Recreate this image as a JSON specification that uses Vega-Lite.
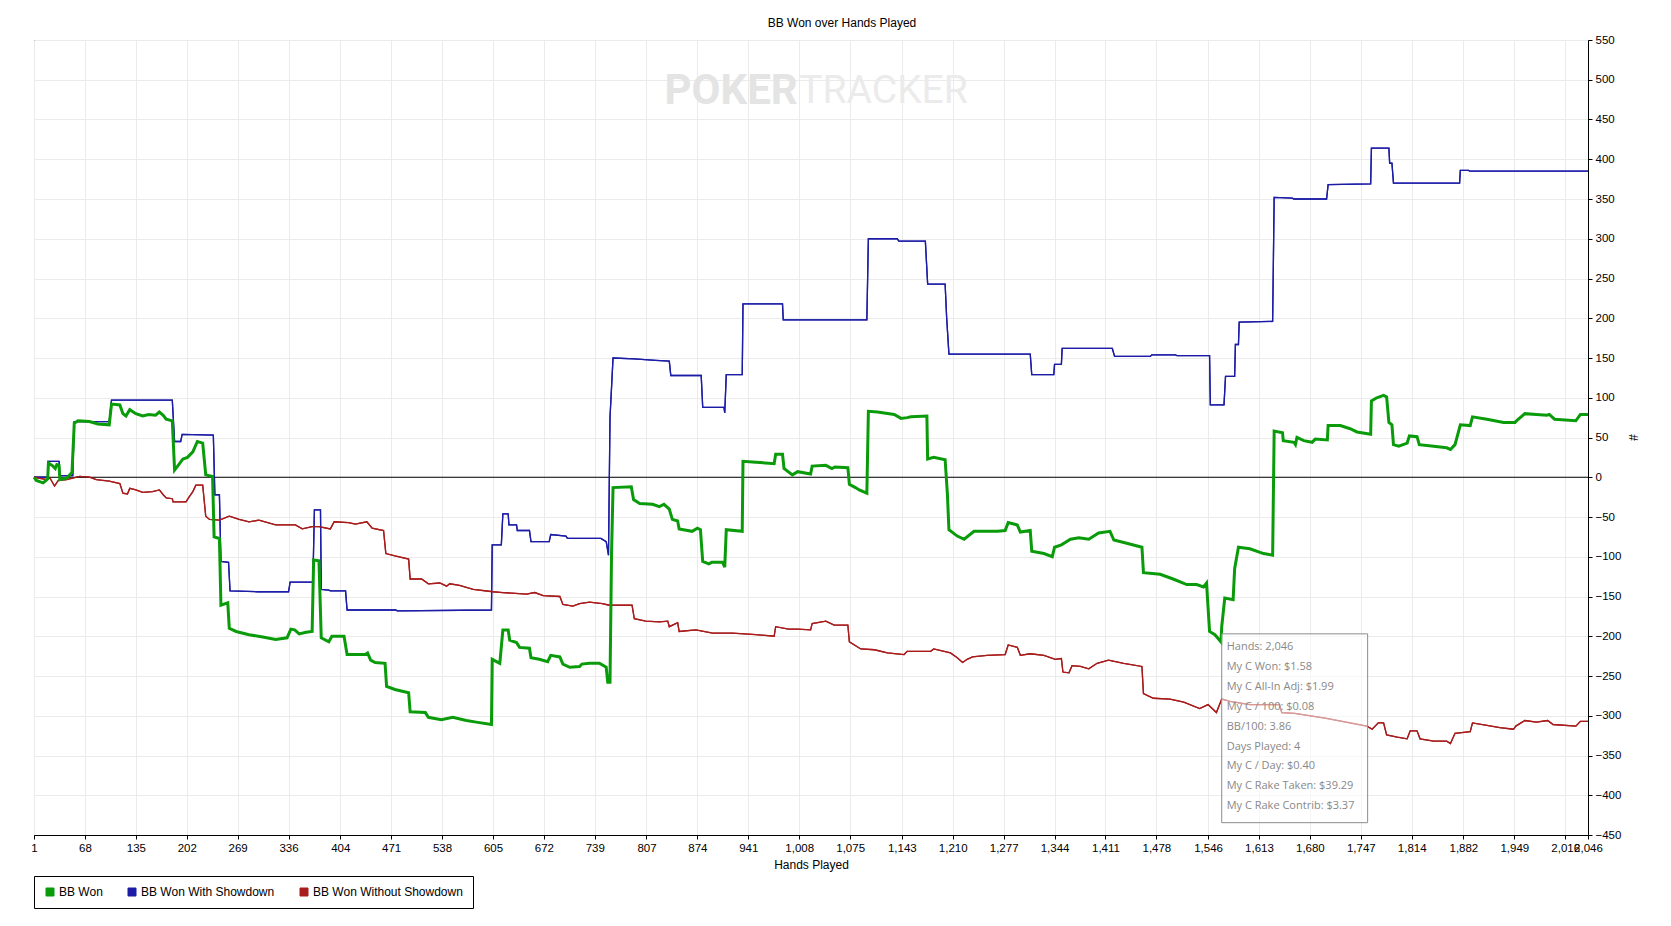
{
  "$schema": "https://vega.github.io/schema/vega-lite/v6.json",
  "width": 1554,
  "height": 795,
  "autosize": {"type": "none"},
  "padding": {"left": 34, "top": 40, "right": 83, "bottom": 91},
  "background": "white",
  "title": {"text": "BB Won over Hands Played", "anchor": "middle", "dx": 31, "offset": 4, "font": "Liberation Sans", "fontSize": 12, "fontWeight": "normal", "color": "black"},
  "config": {
    "view": {"stroke": "black", "strokeWidth": 1},
    "axis": {"labelFont": "Liberation Sans", "labelFontSize": 11.5, "labelColor": "black", "titleFont": "Liberation Sans", "titleFontSize": 12, "titleFontWeight": "normal", "titleColor": "black", "domainColor": "black", "tickColor": "black", "tickSize": 4, "labelPadding": 3, "gridColor": "#ebebeb", "gridWidth": 1, "labelOverlap": false},
    "legend": {"labelFont": "Liberation Sans", "labelFontSize": 12, "labelColor": "black"}
  },
  "datasets": {
    "bb": [
      {"s":"BB Won","h":1,"v":0},{"s":"BB Won","h":4,"v":-4},{"s":"BB Won","h":13,"v":-7},{"s":"BB Won","h":18,"v":-3},{"s":"BB Won","h":19,"v":-2},{"s":"BB Won","h":20,"v":18},{"s":"BB Won","h":26,"v":14},{"s":"BB Won","h":29,"v":11},{"s":"BB Won","h":31,"v":16},{"s":"BB Won","h":34,"v":15},{"s":"BB Won","h":35,"v":-3},{"s":"BB Won","h":44,"v":-1},{"s":"BB Won","h":51,"v":6},{"s":"BB Won","h":54,"v":68},{"s":"BB Won","h":59,"v":71},{"s":"BB Won","h":74,"v":70},{"s":"BB Won","h":85,"v":67},{"s":"BB Won","h":100,"v":66},{"s":"BB Won","h":103,"v":92},{"s":"BB Won","h":114,"v":91},{"s":"BB Won","h":118,"v":80},{"s":"BB Won","h":122,"v":77},{"s":"BB Won","h":127,"v":85},{"s":"BB Won","h":135,"v":80},{"s":"BB Won","h":144,"v":77},{"s":"BB Won","h":152,"v":79},{"s":"BB Won","h":161,"v":78},{"s":"BB Won","h":166,"v":82},{"s":"BB Won","h":171,"v":78},{"s":"BB Won","h":175,"v":73},{"s":"BB Won","h":183,"v":71},{"s":"BB Won","h":186,"v":9},{"s":"BB Won","h":190,"v":14},{"s":"BB Won","h":197,"v":23},{"s":"BB Won","h":203,"v":25},{"s":"BB Won","h":210,"v":32},{"s":"BB Won","h":216,"v":45},{"s":"BB Won","h":223,"v":43},{"s":"BB Won","h":227,"v":3},{"s":"BB Won","h":236,"v":1},{"s":"BB Won","h":238,"v":-75},{"s":"BB Won","h":245,"v":-77},{"s":"BB Won","h":247,"v":-161},{"s":"BB Won","h":256,"v":-158},{"s":"BB Won","h":258,"v":-190},{"s":"BB Won","h":267,"v":-194},{"s":"BB Won","h":284,"v":-198},{"s":"BB Won","h":302,"v":-201},{"s":"BB Won","h":319,"v":-204},{"s":"BB Won","h":334,"v":-202},{"s":"BB Won","h":339,"v":-191},{"s":"BB Won","h":344,"v":-192},{"s":"BB Won","h":350,"v":-197},{"s":"BB Won","h":359,"v":-195},{"s":"BB Won","h":367,"v":-194},{"s":"BB Won","h":369,"v":-104},{"s":"BB Won","h":376,"v":-105},{"s":"BB Won","h":379,"v":-202},{"s":"BB Won","h":389,"v":-207},{"s":"BB Won","h":393,"v":-200},{"s":"BB Won","h":409,"v":-200},{"s":"BB Won","h":413,"v":-223},{"s":"BB Won","h":437,"v":-223},{"s":"BB Won","h":440,"v":-221},{"s":"BB Won","h":444,"v":-230},{"s":"BB Won","h":450,"v":-233},{"s":"BB Won","h":463,"v":-234},{"s":"BB Won","h":465,"v":-263},{"s":"BB Won","h":476,"v":-267},{"s":"BB Won","h":494,"v":-271},{"s":"BB Won","h":496,"v":-295},{"s":"BB Won","h":516,"v":-296},{"s":"BB Won","h":520,"v":-302},{"s":"BB Won","h":537,"v":-305},{"s":"BB Won","h":552,"v":-302},{"s":"BB Won","h":570,"v":-306},{"s":"BB Won","h":583,"v":-308},{"s":"BB Won","h":603,"v":-311},{"s":"BB Won","h":604,"v":-229},{"s":"BB Won","h":614,"v":-234},{"s":"BB Won","h":618,"v":-192},{"s":"BB Won","h":625,"v":-192},{"s":"BB Won","h":627,"v":-205},{"s":"BB Won","h":636,"v":-208},{"s":"BB Won","h":640,"v":-214},{"s":"BB Won","h":653,"v":-215},{"s":"BB Won","h":655,"v":-227},{"s":"BB Won","h":666,"v":-229},{"s":"BB Won","h":677,"v":-232},{"s":"BB Won","h":681,"v":-224},{"s":"BB Won","h":693,"v":-226},{"s":"BB Won","h":697,"v":-235},{"s":"BB Won","h":706,"v":-239},{"s":"BB Won","h":719,"v":-238},{"s":"BB Won","h":722,"v":-235},{"s":"BB Won","h":732,"v":-234},{"s":"BB Won","h":745,"v":-234},{"s":"BB Won","h":754,"v":-239},{"s":"BB Won","h":756,"v":-258},{"s":"BB Won","h":759,"v":-258},{"s":"BB Won","h":761,"v":-97},{"s":"BB Won","h":763,"v":-13},{"s":"BB Won","h":787,"v":-12},{"s":"BB Won","h":790,"v":-28},{"s":"BB Won","h":798,"v":-33},{"s":"BB Won","h":815,"v":-34},{"s":"BB Won","h":824,"v":-37},{"s":"BB Won","h":830,"v":-34},{"s":"BB Won","h":837,"v":-40},{"s":"BB Won","h":841,"v":-53},{"s":"BB Won","h":848,"v":-55},{"s":"BB Won","h":850,"v":-65},{"s":"BB Won","h":867,"v":-68},{"s":"BB Won","h":874,"v":-64},{"s":"BB Won","h":878,"v":-66},{"s":"BB Won","h":881,"v":-106},{"s":"BB Won","h":889,"v":-109},{"s":"BB Won","h":893,"v":-107},{"s":"BB Won","h":907,"v":-107},{"s":"BB Won","h":910,"v":-113},{"s":"BB Won","h":912,"v":-66},{"s":"BB Won","h":933,"v":-68},{"s":"BB Won","h":934,"v":20},{"s":"BB Won","h":951,"v":19},{"s":"BB Won","h":975,"v":17},{"s":"BB Won","h":977,"v":29},{"s":"BB Won","h":986,"v":29},{"s":"BB Won","h":988,"v":11},{"s":"BB Won","h":999,"v":3},{"s":"BB Won","h":1006,"v":7},{"s":"BB Won","h":1023,"v":4},{"s":"BB Won","h":1025,"v":14},{"s":"BB Won","h":1043,"v":15},{"s":"BB Won","h":1051,"v":11},{"s":"BB Won","h":1055,"v":13},{"s":"BB Won","h":1072,"v":12},{"s":"BB Won","h":1074,"v":-9},{"s":"BB Won","h":1082,"v":-13},{"s":"BB Won","h":1087,"v":-16},{"s":"BB Won","h":1097,"v":-20},{"s":"BB Won","h":1099,"v":83},{"s":"BB Won","h":1111,"v":82},{"s":"BB Won","h":1133,"v":79},{"s":"BB Won","h":1142,"v":74},{"s":"BB Won","h":1150,"v":75},{"s":"BB Won","h":1155,"v":76},{"s":"BB Won","h":1176,"v":77},{"s":"BB Won","h":1177,"v":23},{"s":"BB Won","h":1185,"v":25},{"s":"BB Won","h":1200,"v":22},{"s":"BB Won","h":1203,"v":-21},{"s":"BB Won","h":1205,"v":-66},{"s":"BB Won","h":1216,"v":-74},{"s":"BB Won","h":1225,"v":-78},{"s":"BB Won","h":1238,"v":-68},{"s":"BB Won","h":1269,"v":-68},{"s":"BB Won","h":1279,"v":-67},{"s":"BB Won","h":1283,"v":-57},{"s":"BB Won","h":1295,"v":-60},{"s":"BB Won","h":1299,"v":-69},{"s":"BB Won","h":1312,"v":-67},{"s":"BB Won","h":1314,"v":-93},{"s":"BB Won","h":1330,"v":-96},{"s":"BB Won","h":1341,"v":-100},{"s":"BB Won","h":1344,"v":-88},{"s":"BB Won","h":1353,"v":-85},{"s":"BB Won","h":1365,"v":-78},{"s":"BB Won","h":1376,"v":-76},{"s":"BB Won","h":1389,"v":-78},{"s":"BB Won","h":1402,"v":-70},{"s":"BB Won","h":1417,"v":-68},{"s":"BB Won","h":1422,"v":-79},{"s":"BB Won","h":1439,"v":-83},{"s":"BB Won","h":1459,"v":-88},{"s":"BB Won","h":1461,"v":-120},{"s":"BB Won","h":1483,"v":-122},{"s":"BB Won","h":1500,"v":-128},{"s":"BB Won","h":1518,"v":-135},{"s":"BB Won","h":1531,"v":-135},{"s":"BB Won","h":1540,"v":-138},{"s":"BB Won","h":1544,"v":-133},{"s":"BB Won","h":1548,"v":-194},{"s":"BB Won","h":1555,"v":-198},{"s":"BB Won","h":1563,"v":-207},{"s":"BB Won","h":1564,"v":-188},{"s":"BB Won","h":1568,"v":-152},{"s":"BB Won","h":1579,"v":-154},{"s":"BB Won","h":1581,"v":-115},{"s":"BB Won","h":1586,"v":-88},{"s":"BB Won","h":1601,"v":-90},{"s":"BB Won","h":1619,"v":-96},{"s":"BB Won","h":1631,"v":-98},{"s":"BB Won","h":1633,"v":58},{"s":"BB Won","h":1644,"v":56},{"s":"BB Won","h":1645,"v":46},{"s":"BB Won","h":1659,"v":44},{"s":"BB Won","h":1661,"v":41},{"s":"BB Won","h":1663,"v":50},{"s":"BB Won","h":1672,"v":46},{"s":"BB Won","h":1683,"v":44},{"s":"BB Won","h":1687,"v":48},{"s":"BB Won","h":1703,"v":47},{"s":"BB Won","h":1704,"v":65},{"s":"BB Won","h":1720,"v":65},{"s":"BB Won","h":1733,"v":61},{"s":"BB Won","h":1742,"v":57},{"s":"BB Won","h":1760,"v":54},{"s":"BB Won","h":1761,"v":96},{"s":"BB Won","h":1768,"v":100},{"s":"BB Won","h":1777,"v":103},{"s":"BB Won","h":1781,"v":101},{"s":"BB Won","h":1784,"v":69},{"s":"BB Won","h":1788,"v":66},{"s":"BB Won","h":1790,"v":41},{"s":"BB Won","h":1797,"v":39},{"s":"BB Won","h":1808,"v":43},{"s":"BB Won","h":1811,"v":52},{"s":"BB Won","h":1821,"v":51},{"s":"BB Won","h":1824,"v":41},{"s":"BB Won","h":1843,"v":39},{"s":"BB Won","h":1860,"v":37},{"s":"BB Won","h":1865,"v":35},{"s":"BB Won","h":1871,"v":41},{"s":"BB Won","h":1878,"v":66},{"s":"BB Won","h":1891,"v":65},{"s":"BB Won","h":1894,"v":76},{"s":"BB Won","h":1913,"v":73},{"s":"BB Won","h":1935,"v":69},{"s":"BB Won","h":1950,"v":69},{"s":"BB Won","h":1953,"v":72},{"s":"BB Won","h":1963,"v":80},{"s":"BB Won","h":1978,"v":79},{"s":"BB Won","h":1992,"v":78},{"s":"BB Won","h":1995,"v":79},{"s":"BB Won","h":2002,"v":73},{"s":"BB Won","h":2030,"v":71},{"s":"BB Won","h":2036,"v":79},{"s":"BB Won","h":2046,"v":79},

      {"s":"BB Won With Showdown","h":1,"v":0},{"s":"BB Won With Showdown","h":19,"v":0},{"s":"BB Won With Showdown","h":20,"v":20},{"s":"BB Won With Showdown","h":34,"v":20},{"s":"BB Won With Showdown","h":35,"v":2},{"s":"BB Won With Showdown","h":52,"v":2},{"s":"BB Won With Showdown","h":54,"v":70},{"s":"BB Won With Showdown","h":100,"v":70},{"s":"BB Won With Showdown","h":103,"v":97},{"s":"BB Won With Showdown","h":183,"v":97},{"s":"BB Won With Showdown","h":186,"v":45},{"s":"BB Won With Showdown","h":194,"v":45},{"s":"BB Won With Showdown","h":196,"v":54},{"s":"BB Won With Showdown","h":237,"v":53},{"s":"BB Won With Showdown","h":239,"v":-22},{"s":"BB Won With Showdown","h":245,"v":-22},{"s":"BB Won With Showdown","h":247,"v":-106},{"s":"BB Won With Showdown","h":257,"v":-107},{"s":"BB Won With Showdown","h":259,"v":-143},{"s":"BB Won With Showdown","h":295,"v":-144},{"s":"BB Won With Showdown","h":336,"v":-144},{"s":"BB Won With Showdown","h":338,"v":-132},{"s":"BB Won With Showdown","h":368,"v":-132},{"s":"BB Won With Showdown","h":370,"v":-41},{"s":"BB Won With Showdown","h":378,"v":-41},{"s":"BB Won With Showdown","h":379,"v":-141},{"s":"BB Won With Showdown","h":389,"v":-142},{"s":"BB Won With Showdown","h":391,"v":-143},{"s":"BB Won With Showdown","h":411,"v":-143},{"s":"BB Won With Showdown","h":413,"v":-167},{"s":"BB Won With Showdown","h":477,"v":-167},{"s":"BB Won With Showdown","h":479,"v":-168},{"s":"BB Won With Showdown","h":603,"v":-167},{"s":"BB Won With Showdown","h":604,"v":-85},{"s":"BB Won With Showdown","h":616,"v":-85},{"s":"BB Won With Showdown","h":618,"v":-46},{"s":"BB Won With Showdown","h":625,"v":-46},{"s":"BB Won With Showdown","h":626,"v":-60},{"s":"BB Won With Showdown","h":636,"v":-60},{"s":"BB Won With Showdown","h":637,"v":-67},{"s":"BB Won With Showdown","h":653,"v":-67},{"s":"BB Won With Showdown","h":655,"v":-81},{"s":"BB Won With Showdown","h":679,"v":-81},{"s":"BB Won With Showdown","h":681,"v":-72},{"s":"BB Won With Showdown","h":701,"v":-74},{"s":"BB Won With Showdown","h":703,"v":-77},{"s":"BB Won With Showdown","h":747,"v":-77},{"s":"BB Won With Showdown","h":754,"v":-81},{"s":"BB Won With Showdown","h":757,"v":-98},{"s":"BB Won With Showdown","h":759,"v":75},{"s":"BB Won With Showdown","h":763,"v":150},{"s":"BB Won With Showdown","h":791,"v":149},{"s":"BB Won With Showdown","h":819,"v":147},{"s":"BB Won With Showdown","h":837,"v":146},{"s":"BB Won With Showdown","h":839,"v":128},{"s":"BB Won With Showdown","h":879,"v":128},{"s":"BB Won With Showdown","h":881,"v":88},{"s":"BB Won With Showdown","h":909,"v":88},{"s":"BB Won With Showdown","h":910,"v":81},{"s":"BB Won With Showdown","h":912,"v":129},{"s":"BB Won With Showdown","h":933,"v":129},{"s":"BB Won With Showdown","h":934,"v":218},{"s":"BB Won With Showdown","h":986,"v":218},{"s":"BB Won With Showdown","h":987,"v":198},{"s":"BB Won With Showdown","h":1097,"v":198},{"s":"BB Won With Showdown","h":1099,"v":300},{"s":"BB Won With Showdown","h":1137,"v":300},{"s":"BB Won With Showdown","h":1139,"v":297},{"s":"BB Won With Showdown","h":1174,"v":297},{"s":"BB Won With Showdown","h":1177,"v":243},{"s":"BB Won With Showdown","h":1200,"v":243},{"s":"BB Won With Showdown","h":1202,"v":201},{"s":"BB Won With Showdown","h":1205,"v":155},{"s":"BB Won With Showdown","h":1312,"v":155},{"s":"BB Won With Showdown","h":1314,"v":129},{"s":"BB Won With Showdown","h":1343,"v":129},{"s":"BB Won With Showdown","h":1344,"v":142},{"s":"BB Won With Showdown","h":1353,"v":142},{"s":"BB Won With Showdown","h":1354,"v":162},{"s":"BB Won With Showdown","h":1420,"v":162},{"s":"BB Won With Showdown","h":1423,"v":152},{"s":"BB Won With Showdown","h":1470,"v":152},{"s":"BB Won With Showdown","h":1472,"v":154},{"s":"BB Won With Showdown","h":1503,"v":154},{"s":"BB Won With Showdown","h":1505,"v":153},{"s":"BB Won With Showdown","h":1548,"v":153},{"s":"BB Won With Showdown","h":1549,"v":91},{"s":"BB Won With Showdown","h":1567,"v":91},{"s":"BB Won With Showdown","h":1569,"v":127},{"s":"BB Won With Showdown","h":1581,"v":127},{"s":"BB Won With Showdown","h":1582,"v":167},{"s":"BB Won With Showdown","h":1586,"v":167},{"s":"BB Won With Showdown","h":1587,"v":195},{"s":"BB Won With Showdown","h":1631,"v":196},{"s":"BB Won With Showdown","h":1633,"v":352},{"s":"BB Won With Showdown","h":1657,"v":351},{"s":"BB Won With Showdown","h":1659,"v":350},{"s":"BB Won With Showdown","h":1702,"v":350},{"s":"BB Won With Showdown","h":1704,"v":368},{"s":"BB Won With Showdown","h":1760,"v":369},{"s":"BB Won With Showdown","h":1761,"v":414},{"s":"BB Won With Showdown","h":1784,"v":414},{"s":"BB Won With Showdown","h":1785,"v":395},{"s":"BB Won With Showdown","h":1788,"v":395},{"s":"BB Won With Showdown","h":1790,"v":370},{"s":"BB Won With Showdown","h":1877,"v":370},{"s":"BB Won With Showdown","h":1878,"v":386},{"s":"BB Won With Showdown","h":1889,"v":386},{"s":"BB Won With Showdown","h":1890,"v":385},{"s":"BB Won With Showdown","h":2046,"v":385},

      {"s":"BB Won Without Showdown","h":1,"v":0},{"s":"BB Won Without Showdown","h":18,"v":-3},{"s":"BB Won Without Showdown","h":22,"v":-1},{"s":"BB Won Without Showdown","h":28,"v":-11},{"s":"BB Won Without Showdown","h":33,"v":-4},{"s":"BB Won Without Showdown","h":44,"v":-3},{"s":"BB Won Without Showdown","h":61,"v":1},{"s":"BB Won Without Showdown","h":74,"v":0},{"s":"BB Won Without Showdown","h":83,"v":-3},{"s":"BB Won Without Showdown","h":100,"v":-5},{"s":"BB Won Without Showdown","h":114,"v":-8},{"s":"BB Won Without Showdown","h":118,"v":-20},{"s":"BB Won Without Showdown","h":124,"v":-21},{"s":"BB Won Without Showdown","h":127,"v":-14},{"s":"BB Won Without Showdown","h":135,"v":-16},{"s":"BB Won Without Showdown","h":144,"v":-19},{"s":"BB Won Without Showdown","h":157,"v":-18},{"s":"BB Won Without Showdown","h":166,"v":-16},{"s":"BB Won Without Showdown","h":171,"v":-22},{"s":"BB Won Without Showdown","h":175,"v":-26},{"s":"BB Won Without Showdown","h":183,"v":-27},{"s":"BB Won Without Showdown","h":184,"v":-31},{"s":"BB Won Without Showdown","h":201,"v":-31},{"s":"BB Won Without Showdown","h":205,"v":-25},{"s":"BB Won Without Showdown","h":210,"v":-18},{"s":"BB Won Without Showdown","h":214,"v":-10},{"s":"BB Won Without Showdown","h":223,"v":-10},{"s":"BB Won Without Showdown","h":227,"v":-49},{"s":"BB Won Without Showdown","h":232,"v":-53},{"s":"BB Won Without Showdown","h":245,"v":-54},{"s":"BB Won Without Showdown","h":258,"v":-49},{"s":"BB Won Without Showdown","h":271,"v":-53},{"s":"BB Won Without Showdown","h":284,"v":-56},{"s":"BB Won Without Showdown","h":297,"v":-54},{"s":"BB Won Without Showdown","h":319,"v":-60},{"s":"BB Won Without Showdown","h":345,"v":-60},{"s":"BB Won Without Showdown","h":354,"v":-65},{"s":"BB Won Without Showdown","h":367,"v":-62},{"s":"BB Won Without Showdown","h":376,"v":-62},{"s":"BB Won Without Showdown","h":391,"v":-65},{"s":"BB Won Without Showdown","h":396,"v":-56},{"s":"BB Won Without Showdown","h":415,"v":-57},{"s":"BB Won Without Showdown","h":424,"v":-59},{"s":"BB Won Without Showdown","h":439,"v":-56},{"s":"BB Won Without Showdown","h":446,"v":-64},{"s":"BB Won Without Showdown","h":461,"v":-67},{"s":"BB Won Without Showdown","h":464,"v":-96},{"s":"BB Won Without Showdown","h":476,"v":-99},{"s":"BB Won Without Showdown","h":494,"v":-103},{"s":"BB Won Without Showdown","h":496,"v":-128},{"s":"BB Won Without Showdown","h":511,"v":-128},{"s":"BB Won Without Showdown","h":520,"v":-134},{"s":"BB Won Without Showdown","h":535,"v":-133},{"s":"BB Won Without Showdown","h":544,"v":-137},{"s":"BB Won Without Showdown","h":548,"v":-134},{"s":"BB Won Without Showdown","h":561,"v":-136},{"s":"BB Won Without Showdown","h":579,"v":-141},{"s":"BB Won Without Showdown","h":605,"v":-144},{"s":"BB Won Without Showdown","h":618,"v":-145},{"s":"BB Won Without Showdown","h":649,"v":-147},{"s":"BB Won Without Showdown","h":660,"v":-145},{"s":"BB Won Without Showdown","h":671,"v":-149},{"s":"BB Won Without Showdown","h":693,"v":-150},{"s":"BB Won Without Showdown","h":697,"v":-160},{"s":"BB Won Without Showdown","h":710,"v":-162},{"s":"BB Won Without Showdown","h":719,"v":-159},{"s":"BB Won Without Showdown","h":732,"v":-157},{"s":"BB Won Without Showdown","h":749,"v":-159},{"s":"BB Won Without Showdown","h":758,"v":-161},{"s":"BB Won Without Showdown","h":788,"v":-161},{"s":"BB Won Without Showdown","h":791,"v":-178},{"s":"BB Won Without Showdown","h":806,"v":-181},{"s":"BB Won Without Showdown","h":824,"v":-182},{"s":"BB Won Without Showdown","h":835,"v":-181},{"s":"BB Won Without Showdown","h":837,"v":-188},{"s":"BB Won Without Showdown","h":848,"v":-183},{"s":"BB Won Without Showdown","h":850,"v":-194},{"s":"BB Won Without Showdown","h":872,"v":-192},{"s":"BB Won Without Showdown","h":894,"v":-196},{"s":"BB Won Without Showdown","h":920,"v":-196},{"s":"BB Won Without Showdown","h":951,"v":-198},{"s":"BB Won Without Showdown","h":975,"v":-200},{"s":"BB Won Without Showdown","h":977,"v":-188},{"s":"BB Won Without Showdown","h":994,"v":-191},{"s":"BB Won Without Showdown","h":1006,"v":-191},{"s":"BB Won Without Showdown","h":1023,"v":-192},{"s":"BB Won Without Showdown","h":1025,"v":-184},{"s":"BB Won Without Showdown","h":1043,"v":-181},{"s":"BB Won Without Showdown","h":1054,"v":-186},{"s":"BB Won Without Showdown","h":1072,"v":-186},{"s":"BB Won Without Showdown","h":1074,"v":-207},{"s":"BB Won Without Showdown","h":1089,"v":-216},{"s":"BB Won Without Showdown","h":1107,"v":-217},{"s":"BB Won Without Showdown","h":1124,"v":-221},{"s":"BB Won Without Showdown","h":1146,"v":-223},{"s":"BB Won Without Showdown","h":1150,"v":-219},{"s":"BB Won Without Showdown","h":1181,"v":-219},{"s":"BB Won Without Showdown","h":1185,"v":-216},{"s":"BB Won Without Showdown","h":1207,"v":-221},{"s":"BB Won Without Showdown","h":1216,"v":-227},{"s":"BB Won Without Showdown","h":1223,"v":-233},{"s":"BB Won Without Showdown","h":1229,"v":-229},{"s":"BB Won Without Showdown","h":1236,"v":-226},{"s":"BB Won Without Showdown","h":1255,"v":-224},{"s":"BB Won Without Showdown","h":1279,"v":-223},{"s":"BB Won Without Showdown","h":1283,"v":-211},{"s":"BB Won Without Showdown","h":1295,"v":-214},{"s":"BB Won Without Showdown","h":1299,"v":-224},{"s":"BB Won Without Showdown","h":1312,"v":-222},{"s":"BB Won Without Showdown","h":1330,"v":-224},{"s":"BB Won Without Showdown","h":1345,"v":-229},{"s":"BB Won Without Showdown","h":1353,"v":-228},{"s":"BB Won Without Showdown","h":1355,"v":-245},{"s":"BB Won Without Showdown","h":1363,"v":-246},{"s":"BB Won Without Showdown","h":1367,"v":-237},{"s":"BB Won Without Showdown","h":1378,"v":-238},{"s":"BB Won Without Showdown","h":1389,"v":-241},{"s":"BB Won Without Showdown","h":1400,"v":-234},{"s":"BB Won Without Showdown","h":1415,"v":-230},{"s":"BB Won Without Showdown","h":1435,"v":-234},{"s":"BB Won Without Showdown","h":1459,"v":-238},{"s":"BB Won Without Showdown","h":1461,"v":-272},{"s":"BB Won Without Showdown","h":1474,"v":-278},{"s":"BB Won Without Showdown","h":1496,"v":-279},{"s":"BB Won Without Showdown","h":1514,"v":-283},{"s":"BB Won Without Showdown","h":1535,"v":-291},{"s":"BB Won Without Showdown","h":1546,"v":-286},{"s":"BB Won Without Showdown","h":1557,"v":-296},{"s":"BB Won Without Showdown","h":1564,"v":-279},{"s":"BB Won Without Showdown","h":1575,"v":-282},{"s":"BB Won Without Showdown","h":1601,"v":-286},{"s":"BB Won Without Showdown","h":1640,"v":-286},{"s":"BB Won Without Showdown","h":1643,"v":-296},{"s":"BB Won Without Showdown","h":1660,"v":-297},{"s":"BB Won Without Showdown","h":1700,"v":-303},{"s":"BB Won Without Showdown","h":1755,"v":-313},{"s":"BB Won Without Showdown","h":1762,"v":-317},{"s":"BB Won Without Showdown","h":1770,"v":-309},{"s":"BB Won Without Showdown","h":1777,"v":-309},{"s":"BB Won Without Showdown","h":1781,"v":-324},{"s":"BB Won Without Showdown","h":1795,"v":-327},{"s":"BB Won Without Showdown","h":1808,"v":-329},{"s":"BB Won Without Showdown","h":1812,"v":-319},{"s":"BB Won Without Showdown","h":1821,"v":-319},{"s":"BB Won Without Showdown","h":1825,"v":-329},{"s":"BB Won Without Showdown","h":1843,"v":-332},{"s":"BB Won Without Showdown","h":1860,"v":-332},{"s":"BB Won Without Showdown","h":1865,"v":-335},{"s":"BB Won Without Showdown","h":1871,"v":-322},{"s":"BB Won Without Showdown","h":1891,"v":-320},{"s":"BB Won Without Showdown","h":1894,"v":-309},{"s":"BB Won Without Showdown","h":1913,"v":-312},{"s":"BB Won Without Showdown","h":1930,"v":-315},{"s":"BB Won Without Showdown","h":1948,"v":-317},{"s":"BB Won Without Showdown","h":1951,"v":-313},{"s":"BB Won Without Showdown","h":1963,"v":-306},{"s":"BB Won Without Showdown","h":1978,"v":-308},{"s":"BB Won Without Showdown","h":1993,"v":-306},{"s":"BB Won Without Showdown","h":2000,"v":-311},{"s":"BB Won Without Showdown","h":2030,"v":-313},{"s":"BB Won Without Showdown","h":2036,"v":-307},{"s":"BB Won Without Showdown","h":2046,"v":-307}
    ]
  },
  "layer": [
    {
      "data": {"name": "bb"},
      "transform": [{"filter": "datum.s !== 'BB Won'"}],
      "mark": {"type": "line", "strokeWidth": 1.3},
      "encoding": {
        "x": {
          "field": "h", "type": "quantitative", "title": "Hands Played",
          "scale": {"domain": [1, 2046], "nice": false, "zero": false},
          "axis": {"values": [1,68,135,202,269,336,404,471,538,605,672,739,807,874,941,1008,1075,1143,1210,1277,1344,1411,1478,1546,1613,1680,1747,1814,1882,1949,2016,2046], "tickCount": 60, "format": ",d", "labelOverlap": false, "labelFlush": false, "grid": true, "titlePadding": 6}
        },
        "y": {
          "field": "v", "type": "quantitative", "title": "#",
          "scale": {"domain": [-450, 550], "nice": false, "zero": false},
          "axis": {"orient": "right", "values": [-450,-400,-350,-300,-250,-200,-150,-100,-50,0,50,100,150,200,250,300,350,400,450,500,550], "tickCount": 30, "format": "d", "grid": true, "labelOverlap": false, "labelFlush": false, "titleAngle": 90, "titleX": 44, "titleY": 397, "titleAlign": "center", "titleBaseline": "middle"}
        },
        "color": {
          "field": "s", "type": "nominal",
          "scale": {"domain": ["BB Won", "BB Won With Showdown", "BB Won Without Showdown"], "range": ["#0a9b0a", "#1c1ca6", "#a81c1c"]},
          "legend": {"title": null, "orient": "none", "legendX": 0, "legendY": 836, "direction": "horizontal", "strokeColor": "black", "fillColor": "white", "padding": 10, "symbolType": "square", "symbolSize": 64, "columnPadding": 23, "labelOffset": 3,
            "encode": {"symbols": {"update": {"fill": {"scale": "color", "field": "value"}, "stroke": {"value": "black"}, "strokeWidth": {"value": 1}, "opacity": {"value": 1}}}}}
        }
      }
    },
    {
      "data": {"values": [{}]},
      "mark": {"type": "text", "text": "POKER", "font": "Roboto", "fontSize": 42, "fontWeight": "bold", "color": "#e4e4e4", "align": "right", "baseline": "middle"},
      "encoding": {
        "x": {"datum": 1006, "type": "quantitative"},
        "y": {"datum": 486, "type": "quantitative"}
      }
    },
    {
      "data": {"values": [{}]},
      "mark": {"type": "text", "text": "TRACKER", "font": "Roboto", "fontSize": 39, "fontWeight": "normal", "color": "#ebebeb", "align": "left", "baseline": "middle"},
      "encoding": {
        "x": {"datum": 1008, "type": "quantitative"},
        "y": {"datum": 486, "type": "quantitative"}
      }
    },
    {
      "data": {"values": [{}]},
      "mark": {"type": "rule", "color": "black", "strokeWidth": 1},
      "encoding": {
        "y": {"datum": 0, "type": "quantitative"}
      }
    },
    {
      "data": {"name": "bb"},
      "transform": [{"filter": "datum.s !== 'BB Won'"}],
      "mark": {"type": "line", "strokeWidth": 1.3},
      "encoding": {
        "x": {"field": "h", "type": "quantitative"},
        "y": {"field": "v", "type": "quantitative"},
        "color": {"field": "s", "type": "nominal"}
      }
    },
    {
      "data": {"name": "bb"},
      "transform": [{"filter": "datum.s === 'BB Won'"}],
      "mark": {"type": "line", "strokeWidth": 3},
      "encoding": {
        "x": {"field": "h", "type": "quantitative"},
        "y": {"field": "v", "type": "quantitative"},
        "color": {"field": "s", "type": "nominal"}
      }
    },
    {
      "data": {"values": [{}]},
      "mark": {"type": "rect", "fill": "white", "fillOpacity": 0.55, "stroke": "#8c8c8c", "strokeWidth": 1},
      "encoding": {
        "x": {"datum": 1564, "type": "quantitative"},
        "x2": {"datum": 1756},
        "y": {"datum": -197, "type": "quantitative"},
        "y2": {"datum": -434.5}
      }
    },
    {
      "data": {"values": [{}]},
      "mark": {"type": "text", "text": ["Hands: 2,046", "My C Won: $1.58", "My C All-In Adj: $1.99", "My C / 100: $0.08", "BB/100: 3.86", "Days Played: 4", "My C / Day: $0.40", "My C Rake Taken: $39.29", "My C Rake Contrib: $3.37"], "font": "Open Sans", "fontSize": 11, "lineHeight": 19.9, "color": "#888888", "align": "left", "baseline": "top"},
      "encoding": {
        "x": {"datum": 1570.5, "type": "quantitative"},
        "y": {"datum": -206, "type": "quantitative"}
      }
    }
  ]
}
